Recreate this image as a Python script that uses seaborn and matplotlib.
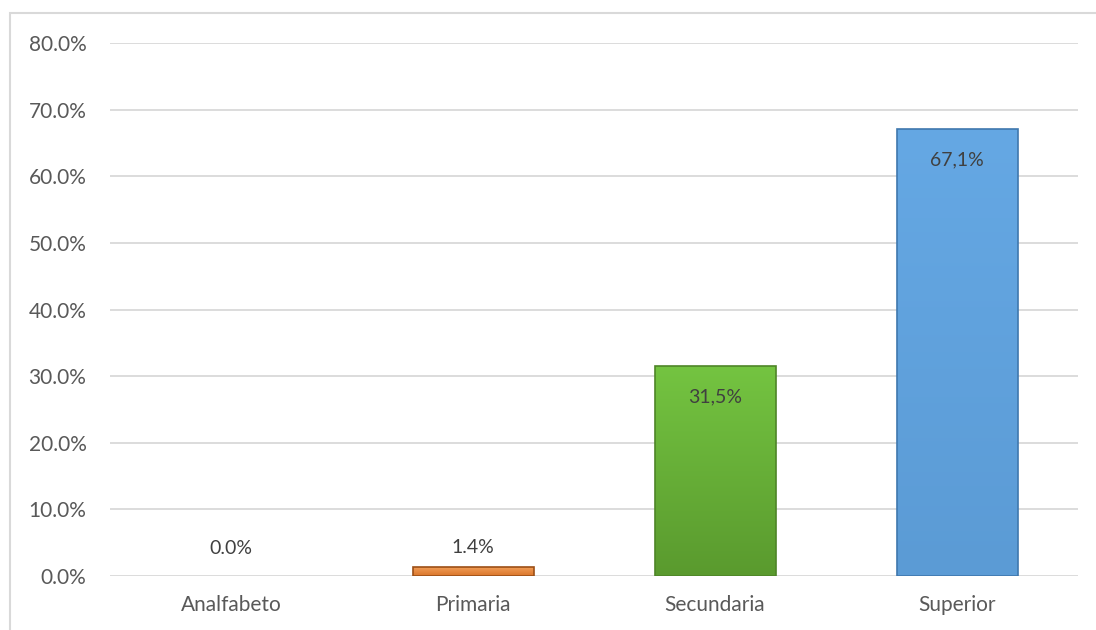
import numpy as np
import matplotlib
matplotlib.use("Agg")
import matplotlib.pyplot as plt
import seaborn as sns
from matplotlib.colors import LinearSegmentedColormap
from matplotlib.patches import Rectangle

categories = ["Analfabeto", "Primaria", "Secundaria", "Superior"]
values = [0.0, 0.014, 0.315, 0.671]
labels = ["0.0%", "1.4%", "31,5%", "67,1%"]
inside = [False, False, True, True]

colors_top = ["#F4B183", "#F4A15C", "#74C441", "#65A8E4"]
colors_bottom = ["#E07B2E", "#D9752A", "#5A9A2E", "#5B9BD5"]
edge_colors = ["#9C4F16", "#9C4F16", "#4E8527", "#3F78AE"]

sns.set_theme(style="white")
plt.rcParams["font.family"] = ["Lato", "DejaVu Sans"]

fig = plt.figure(figsize=(10.96, 6.30), dpi=100)
ax = fig.add_axes([110 / 1096, 54 / 630, 968 / 1096, 533 / 630])

sns.barplot(x=categories, y=values, hue=categories, palette=colors_bottom,
            legend=False, width=0.5, ax=ax, zorder=3)

ax.set_ylim(0, 0.8)
ax.set_xlim(-0.5, len(categories) - 0.5)
ax.set_yticks(np.arange(0, 0.81, 0.1))
ax.set_yticklabels([f"{t * 100:.1f}%" for t in np.arange(0, 0.81, 0.1)])
ax.yaxis.grid(True, color="#D9D9D9", linewidth=1.3, zorder=0)
ax.set_axisbelow(True)
for s in ax.spines.values():
    s.set_visible(False)
ax.tick_params(axis="both", length=0, labelsize=15, colors="#595959")
ax.tick_params(axis="y", pad=17)
ax.tick_params(axis="x", pad=14)
ax.set_xlabel("")
ax.set_ylabel("")

# gradient fill with a darker outline, clipped to each bar
for i, p in enumerate(ax.patches):
    x0, y0 = p.get_x(), p.get_y()
    w, h = p.get_width(), p.get_height()
    if h <= 0:
        p.set_visible(False)
        continue
    cmap = LinearSegmentedColormap.from_list("g", [colors_bottom[i], colors_top[i]])
    grad = np.linspace(0, 1, 256).reshape(-1, 1)
    im = ax.imshow(grad, cmap=cmap, origin="lower", aspect="auto",
                   extent=[x0, x0 + w, y0, y0 + h], zorder=3)
    im.set_clip_path(p)
    p.set_edgecolor(edge_colors[i])
    p.set_linewidth(1.2)
    p.set_facecolor("none")
    p.set_zorder(4)

ax.set_xlim(-0.5, len(categories) - 0.5)
ax.set_ylim(0, 0.8)

for i, (v, lab) in enumerate(zip(values, labels)):
    if inside[i]:
        off = -22
    elif v == 0:
        off = 20
    else:
        off = 14
    ax.annotate(lab, (i, v), xytext=(0, off), textcoords="offset points",
                ha="center", va="center", fontsize=14, color="#404040", zorder=5)

# chart border
fig.patches.append(Rectangle((10 / 1096, -0.1), 1.2, (630 - 13) / 630 + 0.1,
                             transform=fig.transFigure, fill=False,
                             edgecolor="#D9D9D9", linewidth=1.5))

fig.savefig("out.png", dpi=100)
